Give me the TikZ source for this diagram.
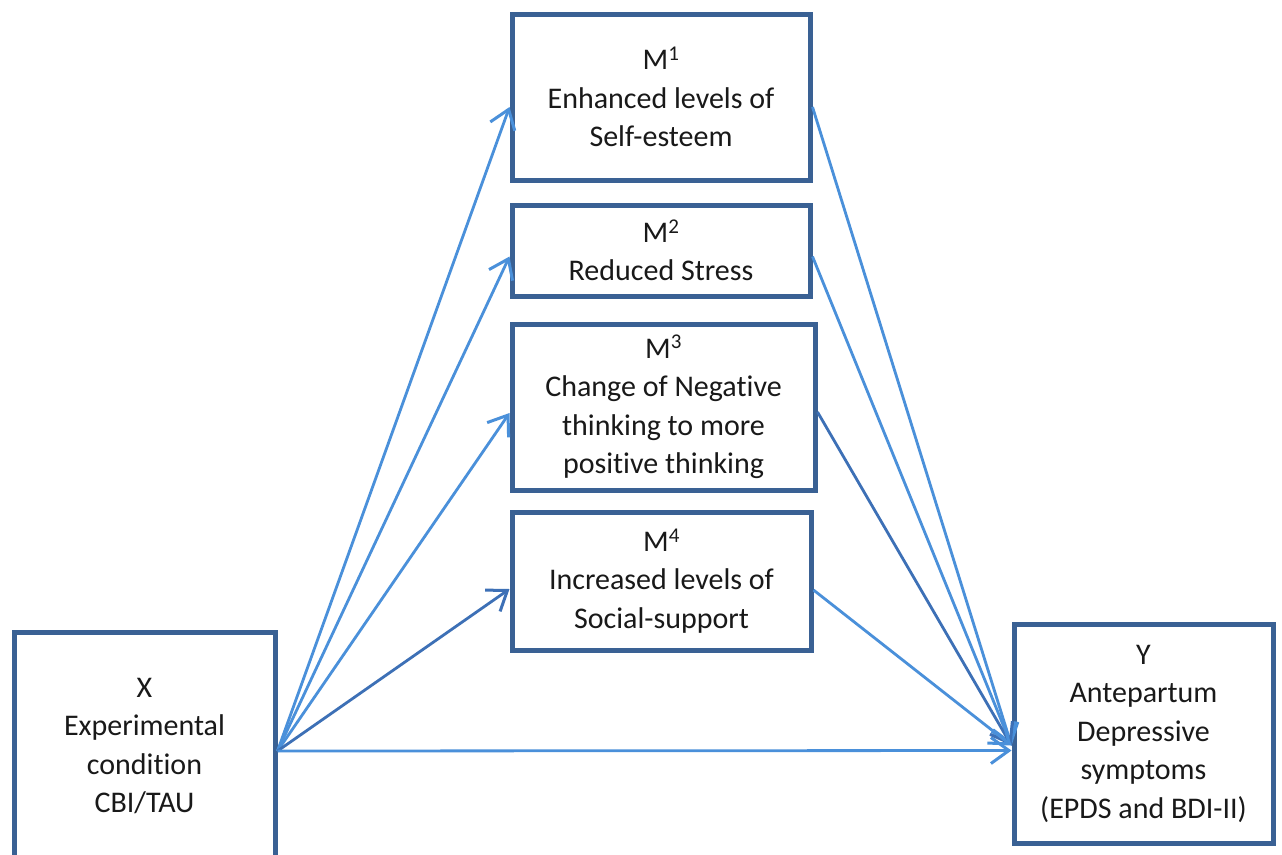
\documentclass[tikz,border=0pt]{standalone}
\usepackage{fontspec}
\setmainfont{Carlito}[Ligatures=NoCommon]
\usetikzlibrary{arrows.meta}
\definecolor{boxblue}{HTML}{3A6194}
\definecolor{arrlight}{HTML}{4A90DA}
\definecolor{arrdark}{HTML}{3D70B6}
\begin{document}
\begin{tikzpicture}[x=1pt,y=-1pt,
  box/.style={draw=boxblue, line width=5pt, fill=white, rectangle, align=center, inner sep=0pt,
    font=\fontsize{30}{38.5}\selectfont, text=black!90},
  conn/.style={line width=2.8pt, arrlight, -{Straight Barb[length=18pt,width=26pt,line width=3pt]}},
  dconn/.style={conn, arrdark}
]
\useasboundingbox (0,0) rectangle (1282,854);
\fill[white] (0,0) rectangle (1282,854);

\node[box, minimum width=261, minimum height=228] (X) at (144.5,746)
  {X\\Experimental\\condition\\CBI/TAU};
\node[box, minimum width=298, minimum height=166] (M1) at (661,97)
  {M\textsuperscript{1}\\Enhanced levels of\\Self-esteem};
\node[box, minimum width=298, minimum height=91] (M2) at (661,250.5)
  {M\textsuperscript{2}\\Reduced Stress};
\node[box, minimum width=303, minimum height=166] (M3) at (663.5,407)
  {M\textsuperscript{3}\\Change of Negative\\thinking to more\\positive thinking};
\node[box, minimum width=299, minimum height=138] (M4) at (661.5,581)
  {M\textsuperscript{4}\\Increased levels of\\Social-support};
\node[box, minimum width=259, minimum height=219] (Y) at (1143.5,733.5)
  {Y\\Antepartum\\Depressive\\symptoms\\(EPDS and BDI-II)};

\coordinate (xo) at ([yshift=-5pt]X.east);
\coordinate (yin) at ([yshift=-12pt]Y.west);
\coordinate (yh) at ([yshift=-17pt]Y.west);

\draw[conn] (xo) -- ([yshift=-10pt]M1.west);
\draw[conn] (xo) -- ([yshift=-6pt]M2.west);
\draw[conn] (xo) -- ([yshift=-6pt]M3.west);
\draw[dconn] (xo) -- ([yshift=-8pt]M4.west);
\draw[conn] (xo) -- (yh);

\draw[conn] ([yshift=-10pt]M1.east) -- (yin);
\draw[conn] ([yshift=-6pt]M2.east) -- (yin);
\draw[dconn] ([yshift=-5pt]M3.east) -- (yin);
\draw[conn] ([yshift=-9pt]M4.east) -- (yin);
\end{tikzpicture}
\end{document}
